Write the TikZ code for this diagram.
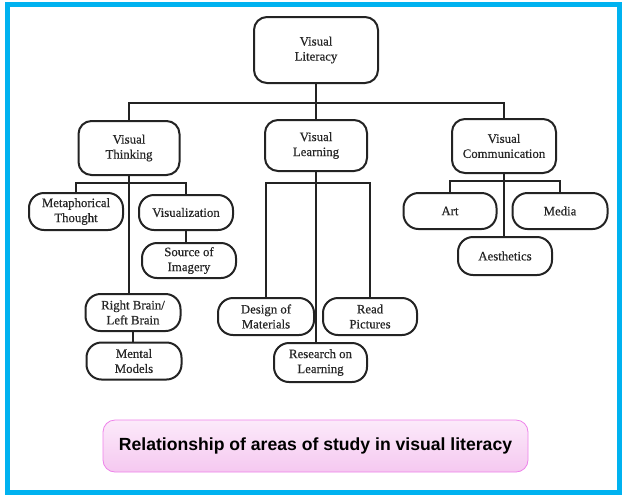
\documentclass[tikz,border=0pt]{standalone}
\usepackage{fontspec}
\setmainfont{Liberation Serif}
\newfontfamily\nodefont{Liberation Serif}[FakeBold=0.5]
\newfontfamily\capfont{Liberation Sans}
\definecolor{framecyan}{RGB}{0,178,240}
\definecolor{linegray}{RGB}{35,35,35}
\definecolor{pinkA}{RGB}{252,234,250}
\definecolor{pinkB}{RGB}{245,200,240}
\definecolor{pinkE}{RGB}{238,130,234}
\begin{document}
\begin{tikzpicture}[x=1pt,y=-1pt,
  topbox/.style={draw=linegray, line width=2pt, rounded corners=13pt, inner sep=0pt, align=center,
    font=\nodefont\fontsize{12.8}{15}\selectfont, text=black!85},
  leafbox/.style={draw=linegray, line width=2pt, rounded corners=15pt, inner sep=0pt, align=center,
    font=\nodefont\fontsize{12.8}{15}\selectfont, text=black!85},
  conn/.style={draw=linegray, line width=2pt},
  capbox/.style={draw=pinkE, line width=0.8pt, rounded corners=12pt, top color=pinkA, bottom color=pinkB,
    inner sep=0pt, font=\capfont\bfseries\fontsize{17.6}{20}\selectfont}
]
\useasboundingbox (0,0) rectangle (623,496);
\fill[white] (0,0) rectangle (623,496);
\draw[framecyan, line width=5pt] (7.5,4) rectangle (619.5,492.5);

% top level
\node[topbox, minimum width=124pt, minimum height=66pt] (vl) at (316,50) {Visual\\Literacy};
\node[topbox, minimum width=101pt, minimum height=54pt] (vt) at (129,148) {Visual\\Thinking};
\node[topbox, minimum width=102pt, minimum height=51pt] (vlearn) at (316,145.5) {Visual\\Learning};
\node[topbox, minimum width=104pt, minimum height=54pt] (vc) at (504,146) {Visual\\Communication};

% visual thinking children
\node[leafbox, minimum width=94pt, minimum height=37pt] (mt) at (76,211.5) {Metaphorical\\Thought};
\node[leafbox, minimum width=94pt, minimum height=35pt] (viz) at (186,212.5) {Visualization};
\node[leafbox, minimum width=94pt, minimum height=35pt] (soi) at (189,260.5) {Source of\\Imagery};
\node[leafbox, minimum width=95pt, minimum height=37pt] (rb) at (133,312.5) {Right Brain/\\Left Brain};
\node[leafbox, minimum width=95pt, minimum height=37pt] (mm) at (134,361) {Mental\\Models};

% visual learning children
\node[leafbox, minimum width=96pt, minimum height=37pt] (dom) at (266,316.5) {Design of\\Materials};
\node[leafbox, minimum width=94pt, minimum height=37pt] (rp) at (370,316.5) {Read\\Pictures};
\node[leafbox, minimum width=93pt, minimum height=39pt] (rol) at (320.5,362.5) {Research on\\Learning};

% visual communication children
\node[leafbox, minimum width=93pt, minimum height=36pt] (art) at (450,211) {Art};
\node[leafbox, minimum width=95pt, minimum height=36pt] (media) at (560,211) {Media};
\node[leafbox, minimum width=94pt, minimum height=38pt] (aes) at (505,256) {Aesthetics};

% caption
\node[capbox, minimum width=425pt, minimum height=52pt] (cap) at (315.5,446) {Relationship of areas of study in visual literacy};

% bus coordinates
\coordinate (bus) at (0,103);
\coordinate (tbus) at (0,183);
\coordinate (lbus) at (0,183);
\coordinate (cbus) at (0,181);

% connectors
\draw[conn] (vl.south) -- (vl.south |- vlearn.north);
\draw[conn] (vt.north) -- (vt.north |- bus) -- (vc.north |- bus) -- (vc.north);

\draw[conn] (vt.south) -- (vt.south |- rb.north);
\draw[conn] (mt.north) -- (mt.north |- tbus) -- (viz.north |- tbus) -- (viz.north);
\draw[conn] (viz.south) -- (viz.south |- soi.north);
\draw[conn] (rb.south) -- (rb.south |- mm.north);

\draw[conn] (vlearn.south) -- (vlearn.south |- rol.north);
\draw[conn] (dom.north) -- (dom.north |- lbus) -- (rp.north |- lbus) -- (rp.north);

\draw[conn] (vc.south) -- (vc.south |- aes.north);
\draw[conn] (art.north) -- (art.north |- cbus) -- (media.north |- cbus) -- (media.north);
\end{tikzpicture}
\end{document}
